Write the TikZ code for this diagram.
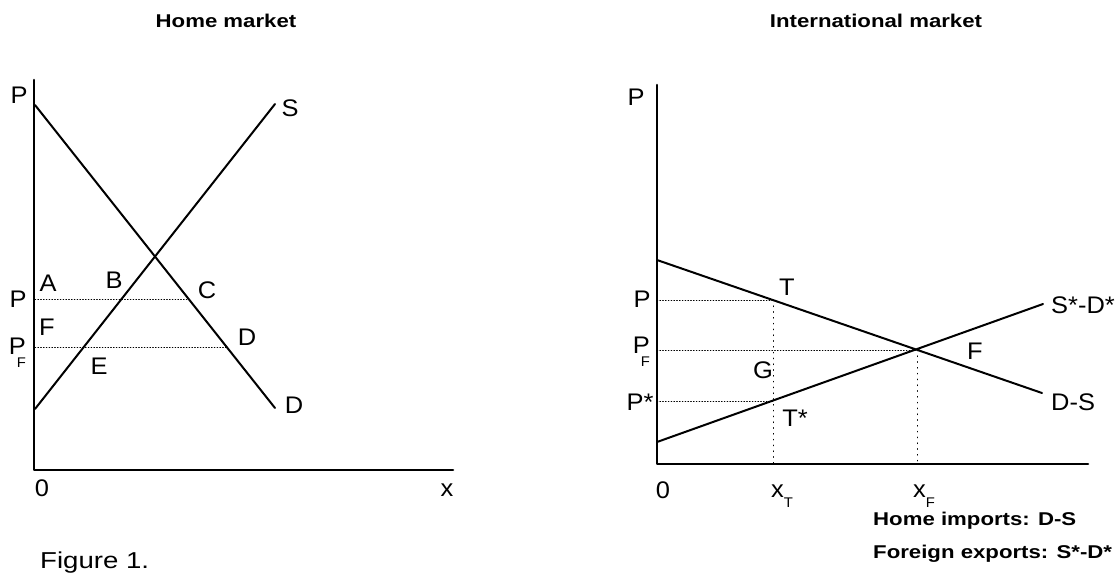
\documentclass[tikz,border=0pt]{standalone}
\usepackage{fontspec}
\setmainfont{Liberation Sans}[FakeStretch=1.06]
\newfontfamily\headfont{Liberation Sans}[FakeStretch=1.2]
\newcommand{\lowsub}[1]{\llap{\smash{\raisebox{-0.56em}{\fontsize{14}{14}\selectfont #1}}}\kern0.05em}
\newcommand{\subsc}[1]{\smash{\raisebox{-0.42em}{\fontsize{14}{14}\selectfont #1}}}

\begin{document}
\begin{tikzpicture}[x=1pt, y=-1pt, line join=round, line cap=round,
	lbl/.style={font=\fontsize{24}{26}\selectfont, inner sep=0pt},
	head/.style={font=\headfont\bfseries\fontsize{18.5}{20}\selectfont, inner sep=0pt},
	axis/.style={line width=2.6pt},
	curve/.style={line width=2pt},
	guide/.style={line width=0.8pt, dotted}]
	\useasboundingbox (0,0) rectangle (1117,582);
	% home market
	\coordinate (hO) at (34,470);
	\coordinate (hY) at (34,80);
	\coordinate (hX) at (453,470);
	\coordinate (hDa) at (35,105);
	\coordinate (hDb) at (275,408);
	\coordinate (hSa) at (35,409);
	\coordinate (hSb) at (275,104);
	\coordinate (hPa) at (35,299);
	\coordinate (hPb) at (187,299);
	\coordinate (hFa) at (35,347);
	\coordinate (hFb) at (226,347);
	\draw[axis] (hY)--(hO)--(hX);
	\draw[curve] (hDa)--(hDb) (hSa)--(hSb);
	\draw[guide] (hPa)--(hPb) (hFa)--(hFb);
	\node[head] (hTitle) at (226,21) {Home market};
	\node[lbl] (hP) at (19,95) {P};
	\node[lbl] (hS) at (290,108) {S};
	\node[lbl] (hA) at (48,283) {A};
	\node[lbl] (hB) at (114,280) {B};
	\node[lbl] (hC) at (207,290) {C};
	\node[lbl] (hPw) at (18,299) {P};
	\node[lbl] (hF) at (47,327) {F};
	\node[lbl] (hPF) at (18,346) {P\lowsub{F}};
	\node[lbl] (hD) at (247,337) {D};
	\node[lbl] (hE) at (99,366) {E};
	\node[lbl] (hDl) at (294,405) {D};
	\node[lbl] (hZero) at (42,488) {0};
	\node[lbl] (hx) at (447,490) {x};
	\node[head, font=\headfont\fontsize{23}{25}\selectfont, anchor=west] (fig) at (40,563) {Figure 1.};
	% international market
	\coordinate (iO) at (657,464);
	\coordinate (iY) at (657,85);
	\coordinate (iX) at (1088,464);
	\coordinate (iDa) at (657,260);
	\coordinate (iDb) at (1042,393);
	\coordinate (iSa) at (657,442);
	\coordinate (iSb) at (1043,304);
	\coordinate (iT) at (773,300);
	\coordinate (iTs) at (773,401);
	\coordinate (iE) at (917,350);
	\coordinate (iPa) at (657,300);
	\coordinate (iFa) at (657,350);
	\coordinate (iSs) at (657,401);
	\coordinate (iXT) at (773,464);
	\coordinate (iXF) at (917,464);
	\draw[axis] (iY)--(iO)--(iX);
	\draw[curve] (iDa)--(iDb) (iSa)--(iSb);
	\draw[guide] (iPa)--(iT) (iFa)--(iE) (iSs)--(iTs);
	\draw[guide, dash pattern=on 0.8pt off 5pt] (iT)--(iXT) (iE)--(iXF);
	\node[head] (iTitle) at (876,21) {International market};
	\node[lbl] (iP) at (636,97) {P};
	\node[lbl] (iPw) at (642,299) {P};
	\node[lbl] (iPF) at (642,345) {P\lowsub{F}};
	\node[lbl] (iPs) at (640,402) {P*};
	\node[lbl] (iTl) at (787,287) {T};
	\node[lbl] (iG) at (763,370) {G};
	\node[lbl] (iTsl) at (795,418) {T*};
	\node[lbl] (iF) at (975,351) {F};
	\node[lbl, anchor=west] (iSD) at (1051,305) {S*-D*};
	\node[lbl, anchor=west] (iDS) at (1051,402) {D-S};
	\node[lbl] (iZero) at (663,490) {0};
	\node[lbl] (iXTl) at (782,491) {x\subsc{T}};
	\node[lbl] (iXFl) at (924,491) {x\subsc{F}};
	\node[head, anchor=west] (imp) at (873,521) {Home imports: D-S};
	\node[head, anchor=west] (exp) at (873,554) {Foreign exports: S*-D*};
\end{tikzpicture}
\end{document}
